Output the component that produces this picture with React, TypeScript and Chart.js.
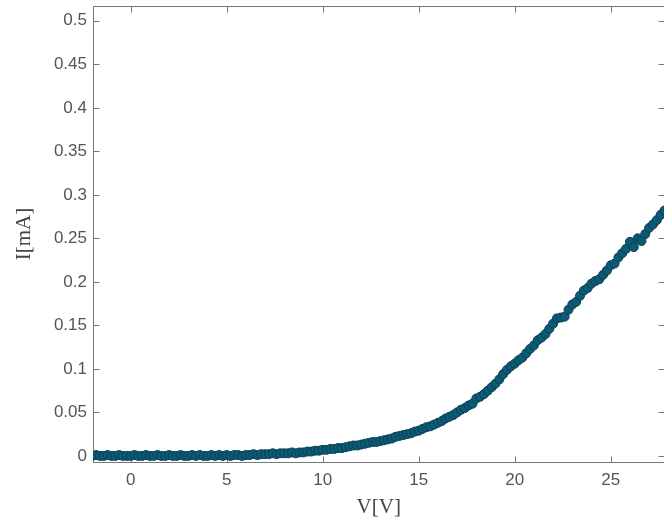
import React, { useEffect, useRef } from "react";
import { Chart, registerables } from "chart.js";

Chart.register(...registerables);

const voltage = [
  -2.0, -1.8, -1.6, -1.4, -1.2, -1.0, -0.8, -0.6, -0.4, -0.2,
  0.0, 0.2, 0.4, 0.6, 0.8, 1.0, 1.2, 1.4, 1.6, 1.8,
  2.0, 2.2, 2.4, 2.6, 2.8, 3.0, 3.2, 3.4, 3.6, 3.8,
  4.0, 4.2, 4.4, 4.6, 4.8, 5.0, 5.2, 5.4, 5.6, 5.8,
  6.0, 6.2, 6.4, 6.6, 6.8, 7.0, 7.2, 7.4, 7.6, 7.8,
  8.0, 8.2, 8.4, 8.6, 8.8, 9.0, 9.2, 9.4, 9.6, 9.8,
  10.0, 10.2, 10.4, 10.6, 10.8, 11.0, 11.2, 11.4, 11.6, 11.8,
  12.0, 12.2, 12.4, 12.6, 12.8, 13.0, 13.2, 13.4, 13.6, 13.8,
  14.0, 14.2, 14.4, 14.6, 14.8, 15.0, 15.2, 15.4, 15.6, 15.8,
  16.0, 16.2, 16.4, 16.6, 16.8, 17.0, 17.2, 17.4, 17.6, 17.8,
  18.0, 18.2, 18.4, 18.6, 18.8, 19.0, 19.2, 19.4, 19.6, 19.8,
  20.0, 20.2, 20.4, 20.6, 20.8, 21.0, 21.2, 21.4, 21.6, 21.8,
  22.0, 22.2, 22.4, 22.6, 22.8, 23.0, 23.2, 23.4, 23.6, 23.8,
  24.0, 24.2, 24.4, 24.6, 24.8, 25.0, 25.2, 25.4, 25.6, 25.8,
  26.0, 26.2, 26.4, 26.6, 26.8, 27.0, 27.2, 27.4, 27.6, 27.8,
];

const current = [
  0.000, 0.001, 0.000, 0.000, 0.001, 0.000, 0.000, 0.001, 0.000, 0.000,
  0.000, 0.001, 0.000, 0.000, 0.001, 0.000, 0.000, 0.001, 0.000, 0.000,
  0.001, 0.000, 0.000, 0.001, 0.000, 0.000, 0.001, 0.000, 0.001, 0.000,
  0.000, 0.001, 0.000, 0.001, 0.000, 0.001, 0.000, 0.001, 0.001, 0.000,
  0.001, 0.001, 0.002, 0.001, 0.002, 0.002, 0.002, 0.003, 0.002, 0.003,
  0.003, 0.003, 0.004, 0.003, 0.004, 0.004, 0.005, 0.005, 0.006, 0.006,
  0.007, 0.007, 0.008, 0.008, 0.009, 0.009, 0.010, 0.011, 0.012, 0.012,
  0.013, 0.014, 0.015, 0.016, 0.016, 0.017, 0.018, 0.019, 0.020, 0.022,
  0.023, 0.024, 0.025, 0.026, 0.028, 0.029, 0.031, 0.033, 0.034, 0.036,
  0.038, 0.040, 0.043, 0.045, 0.047, 0.050, 0.053, 0.055, 0.058, 0.060,
  0.066, 0.068, 0.071, 0.075, 0.079, 0.083, 0.088, 0.094, 0.099, 0.103,
  0.106, 0.110, 0.113, 0.118, 0.123, 0.127, 0.133, 0.136, 0.140, 0.146,
  0.152, 0.158, 0.159, 0.160, 0.168, 0.174, 0.177, 0.184, 0.190, 0.193,
  0.198, 0.201, 0.203, 0.208, 0.213, 0.219, 0.221, 0.228, 0.233, 0.238,
  0.246, 0.240, 0.250, 0.247, 0.255, 0.262, 0.266, 0.271, 0.277, 0.282,
];

const xTicks = [0, 5, 10, 15, 20, 25];
const yTicks = [0, 0.05, 0.1, 0.15, 0.2, 0.25, 0.3, 0.35, 0.4, 0.45, 0.5];

const boxPlugin = {
  id: "matlabBox",
  beforeDatasetsDraw(chart: any) {
    const { ctx, chartArea: a, scales } = chart;
    const x = scales.x;
    const y = scales.y;
    ctx.save();
    ctx.strokeStyle = "#777777";
    ctx.lineWidth = 1;
    ctx.beginPath();
    const L = Math.round(a.left) + 0.5;
    const R = Math.round(a.right) - 0.5;
    const T = Math.round(a.top) + 0.5;
    const B = Math.round(a.bottom) + 0.5;
    ctx.moveTo(L, T);
    ctx.lineTo(R, T);
    ctx.lineTo(R, B);
    ctx.lineTo(L, B);
    ctx.closePath();
    for (const v of xTicks) {
      const px = Math.round(x.getPixelForValue(v)) + 0.5;
      ctx.moveTo(px, B);
      ctx.lineTo(px, B - 6);
      ctx.moveTo(px, T);
      ctx.lineTo(px, T + 6);
    }
    for (const v of yTicks) {
      const py = Math.round(y.getPixelForValue(v)) + 0.5;
      ctx.moveTo(L, py);
      ctx.lineTo(L + 6, py);
      ctx.moveTo(R, py);
      ctx.lineTo(R - 6, py);
    }
    ctx.stroke();
    ctx.restore();
  },
};

export default function App() {
  const ref = useRef<HTMLCanvasElement | null>(null);

  useEffect(() => {
    document.body.style.margin = "0";
    const canvas = ref.current;
    if (!canvas) return;
    const tickFont = { family: "'Liberation Sans', Arial, sans-serif", size: 17 };
    const titleFont = { family: "'Liberation Serif', 'Times New Roman', serif", size: 21 };
    const chart = new Chart(canvas, {
      type: "scatter",
      data: {
        datasets: [
          {
            label: "I(V)",
            data: voltage.map((v, i) => ({ x: v, y: current[i] })),
            backgroundColor: "#0b5a76",
            borderColor: "#0a3e52",
            borderWidth: 1,
            pointRadius: 4.5,
            pointHoverRadius: 4.5,
          },
        ],
      },
      options: {
        responsive: false,
        animation: false,
        layout: { padding: { top: 6, right: 2, left: 0, bottom: 0 } },
        plugins: {
          legend: { display: false },
          tooltip: { enabled: false },
        },
        scales: {
          x: {
            type: "linear",
            min: -1.96,
            max: 27.8,
            afterBuildTicks: (s: any) => {
              s.ticks = xTicks.map((v) => ({ value: v }));
            },
            afterFit: (s: any) => {
              s.height = 63;
              s.paddingLeft = 0;
              s.paddingRight = 0;
            },
            grid: { display: false, drawTicks: false },
            border: { display: false },
            ticks: {
              color: "#555555",
              font: tickFont,
              padding: 8,
              maxRotation: 0,
              callback: (v: any) => String(v),
            },
            title: {
              display: true,
              text: "V[V]",
              color: "#444444",
              font: titleFont,
              padding: { top: 0, bottom: 5 },
            },
          },
          y: {
            type: "linear",
            min: -0.007,
            max: 0.517,
            afterBuildTicks: (s: any) => {
              s.ticks = yTicks.map((v) => ({ value: v }));
            },
            afterFit: (s: any) => {
              s.width = 93;
              s.paddingTop = 0;
              s.paddingBottom = 0;
            },
            grid: { display: false, drawTicks: false },
            border: { display: false },
            ticks: {
              color: "#555555",
              font: tickFont,
              padding: 6,
              callback: (v: any) => String(Math.round(Number(v) * 100) / 100),
            },
            title: {
              display: true,
              text: "I[mA]",
              color: "#444444",
              font: titleFont,
              padding: { top: 12, bottom: 0 },
            },
          },
        },
      },
      plugins: [boxPlugin],
    });
    return () => chart.destroy();
  }, []);

  return (
    <div style={{ position: "absolute", left: 0, top: 0, width: 664, height: 525, overflow: "hidden", background: "#ffffff" }}>
      <canvas ref={ref} width={670} height={525} style={{ display: "block" }} />
    </div>
  );
}
